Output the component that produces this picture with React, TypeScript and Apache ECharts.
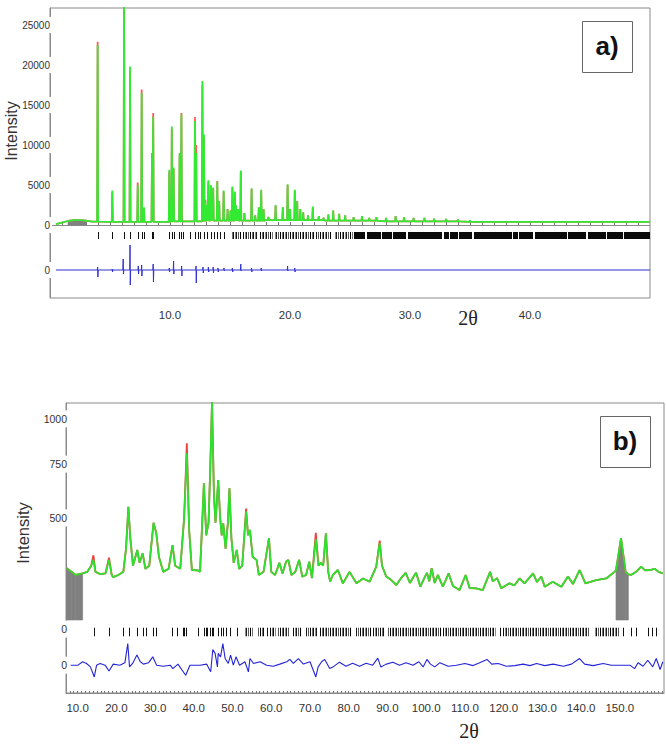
import React, { useEffect, useRef } from "react";
import * as echarts from "echarts";

// ================= Panel a) =================
// background of observed profile [2θ, counts]
const topBackground: number[][] = [
  [0.5, 100], [1.0, 300], [1.5, 500], [2.0, 600], [2.5, 620], [3.0, 550], [3.5, 420],
  [5.0, 400], [10.0, 450], [13.0, 550], [18.0, 600], [23.0, 550], [28.0, 450], [35.0, 400], [50.0, 400],
];
// Bragg peaks [2θ, Iobs, Icalc]
const topPeaks: number[][] = [
  [3.97, 22500, 22900], [5.19, 4300, 4100], [6.17, 28500, 28000], [6.67, 19800, 19300],
  [7.31, 5000, 5300], [7.64, 16500, 16950], [7.83, 2200, 2000], [8.50, 8500, 9000],
  [8.60, 13500, 14000], [9.94, 6900, 6700], [10.15, 12300, 12000], [10.30, 7200, 7000],
  [10.80, 9000, 8800], [10.95, 13800, 14000], [12.08, 13000, 13500], [12.18, 9000, 10000],
  [12.70, 18000, 17500], [12.83, 11300, 11000], [12.95, 3000, 3200], [13.10, 2500, 2500],
  [13.20, 5600, 5400], [13.40, 5000, 4800], [13.50, 3000, 3000], [13.60, 4700, 4600],
  [13.94, 5400, 5500], [14.10, 3000, 3000], [14.47, 4300, 4200], [14.80, 2000, 2000],
  [15.05, 1800, 1800], [15.20, 4800, 4700], [15.40, 4200, 4100], [15.50, 2500, 2500],
  [15.60, 1800, 1800], [15.70, 2000, 2000], [15.90, 6800, 6700], [16.20, 1500, 1500],
  [16.80, 4600, 4500], [17.10, 1200, 1200], [17.40, 2200, 2200], [17.60, 4400, 4300],
  [17.80, 2000, 2000], [18.20, 1000, 1000], [18.80, 2500, 2400], [19.40, 2200, 2200],
  [19.80, 5100, 5000], [20.00, 2000, 2000], [20.40, 4400, 4300], [20.60, 3000, 3000],
  [20.85, 2000, 2000], [21.10, 1600, 1600], [21.50, 1200, 1200], [21.90, 2300, 2200],
  [22.40, 1100, 1100], [22.80, 900, 900], [23.20, 1300, 1300], [23.60, 1800, 1800],
  [24.10, 1400, 1400], [24.60, 1200, 1200], [25.30, 1000, 1000], [26.00, 1100, 1100],
  [26.60, 900, 900], [27.20, 1000, 1000], [28.00, 900, 900], [28.80, 1100, 1100],
  [29.50, 1000, 1000], [30.30, 900, 900], [31.20, 900, 900], [32.00, 800, 800],
  [33.00, 750, 750], [34.00, 700, 700], [35.00, 600, 600],
];
// difference spikes [2θ, up, down] (counts)
const topDiff: number[][] = [
  [3.97, 375, -875], [5.19, 125, -250], [6.10, 1375, -500], [6.67, 3125, -1875],
  [7.36, 500, -500], [7.64, 625, -750], [8.60, 750, -1500], [9.94, 250, -250],
  [10.30, 1125, -500], [10.97, 500, -750], [12.17, 500, -1625], [12.75, 375, -375],
  [13.20, 375, -250], [13.60, 375, -375], [14.00, 250, -250], [14.50, 250, -125],
  [15.20, 250, -250], [15.90, 750, -125], [16.80, 250, -250], [17.60, 250, -125],
  [19.80, 500, -125], [20.40, 250, -250],
];
const topTicks: number[] = [
  3.97, 5.19, 6.17, 6.67, 7.31, 7.64, 7.83, 8.50, 8.60, 9.94, 10.14, 10.31, 10.78, 10.90,
  11.06, 11.67, 12.11, 12.30, 12.50, 12.83, 13.11, 13.39, 13.67, 13.94, 14.17, 14.50,
];
const topTickBandsSparse: number[][] = [
  [15.1, 15.9], [16.05, 17.3], [17.45, 18.6], [18.75, 20.3], [20.45, 22.0], [22.15, 23.5], [23.65, 25.2],
];
const topTickBandsSolid: number[][] = [
  [25.35, 26.3], [26.4, 27.6], [27.7, 28.5], [28.6, 29.7], [29.8, 31.1], [31.2, 32.7],
  [32.8, 33.2], [33.3, 34.0], [34.1, 35.2], [35.3, 37.1], [37.2, 38.5], [38.6, 39.0],
  [39.1, 40.3], [40.4, 43.1], [43.2, 44.7], [44.8, 46.3], [46.4, 47.7], [47.8, 50.0],
];
const topExcluded: number[][] = [[1.5, 3.0]];
const topYLabels: number[] = [0, 5000, 10000, 15000, 20000, 25000];
const topXLabels: number[] = [10, 20, 30, 40];

// ================= Panel b) =================
// observed profile [2θ, counts]
const bottomObs: number[][] = [
  [7.2, 312], [8.5, 300], [9.5, 290], [11.3, 295], [12.5, 300], [13.5, 320], [14.08, 340],
  [14.6, 300], [15.8, 293], [17.2, 295], [18.1, 340], [18.8, 290], [19.2, 283], [20.5, 290],
  [21.8, 300], [22.5, 380], [23.1, 548], [23.6, 420], [24.3, 320], [25.4, 375], [26.0, 330],
  [26.8, 363], [27.5, 310], [28.5, 320], [29.6, 480], [30.3, 440], [31.0, 350], [32.1, 300],
  [33.5, 310], [34.5, 393], [35.2, 320], [36.5, 310], [37.5, 500], [38.2, 807], [38.8, 450],
  [39.5, 306], [41.0, 305], [41.6, 300], [42.0, 420], [42.6, 655], [43.2, 430], [43.8, 480],
  [44.2, 700], [44.7, 1100], [45.2, 600], [45.6, 480], [46.3, 671], [46.8, 500], [47.2, 430],
  [47.6, 478], [48.2, 380], [48.8, 480], [49.2, 632], [49.7, 420], [50.3, 330], [51.1, 375],
  [51.7, 310], [52.5, 320], [53.5, 527], [54.0, 430], [54.5, 451], [55.2, 350], [56.2, 340],
  [56.8, 290], [58.0, 300], [59.4, 419], [60.0, 300], [61.0, 290], [62.1, 330], [62.9, 295],
  [63.8, 334], [64.4, 340], [65.2, 290], [66.2, 300], [67.2, 340], [68.0, 285], [69.0, 290],
  [69.8, 334], [70.5, 280], [71.5, 415], [72.2, 320], [72.8, 330], [73.4, 320], [74.1, 438],
  [74.7, 300], [75.2, 269], [75.9, 290], [77.2, 306], [78.5, 264], [80.2, 300], [82.0, 264],
  [83.7, 279], [85.4, 269], [87.1, 317], [88.0, 400], [88.6, 320], [89.7, 285], [91.0, 274],
  [92.3, 259], [93.5, 280], [94.7, 297], [95.8, 265], [97.0, 290], [97.4, 297], [98.5, 254],
  [99.5, 280], [100.2, 297], [100.8, 270], [101.4, 312], [102.2, 265], [103.0, 290],
  [104.3, 254], [105.8, 295], [106.9, 256], [108.6, 244], [110.2, 290], [111.2, 250],
  [112.9, 249], [114.6, 244], [116.5, 300], [117.2, 270], [118.3, 280], [119.4, 249],
  [121.5, 264], [122.8, 258], [124.1, 279], [125.4, 264], [127.6, 295], [128.6, 268],
  [129.7, 285], [130.6, 254], [132.7, 269], [134.9, 254], [136.6, 285], [137.9, 262],
  [139.6, 306], [141.1, 264], [143.9, 274], [146.5, 279], [148.6, 300], [149.0, 305],
  [150.3, 419], [151.5, 300], [152.2, 292], [152.9, 290], [154.2, 300], [155.5, 317],
  [156.5, 305], [157.7, 306], [159.0, 310], [160.0, 300], [161.1, 295],
];
// calculated intensity where it differs visibly from observed [2θ, counts]
const bottomCalcTips: number[][] = [
  [14.08, 356], [18.1, 348], [38.2, 860], [71.5, 440], [88.0, 410], [53.5, 540],
];
// difference curve [2θ, counts]
const bottomDiff: number[][] = [
  [8.2, 0], [10.1, 0], [11.3, 16], [12.3, 8], [13.3, -8], [14.3, -55], [14.9, 0], [15.8, 8],
  [17.1, 0], [18.1, -27], [19.2, 5], [20.9, 0], [22.2, 11], [22.95, 101], [23.4, -8], [24.2, 8],
  [25.3, 47], [26.2, 16], [27.0, 5], [28.3, 11], [29.4, 39], [30.4, 0], [32.1, -5], [33.9, 0],
  [34.6, -16], [35.9, 5], [37.9, -47], [39.0, 0], [41.6, 0], [43.3, 5], [44.36, -31],
  [44.9, 73], [45.5, 55], [46.1, -8], [46.3, 55], [46.9, 39], [47.5, 101], [48.1, 31],
  [48.9, 8], [49.5, 47], [50.2, 0], [50.9, 39], [51.8, 0], [53.2, 16], [54.1, -31], [54.5, 31],
  [55.4, 8], [57.1, 16], [58.8, 0], [60.5, -5], [62.2, 5], [64.0, 16], [64.8, 27], [65.7, 8],
  [67.0, 31], [68.3, 5], [70.0, 16], [71.5, -55], [72.1, -8], [73.0, 16], [73.8, 27],
  [75.1, -16], [75.9, -9], [77.6, 14], [79.3, -5], [81.0, 9], [82.8, -5], [84.5, 9], [86.2, 0],
  [87.5, 33], [88.3, -9], [89.7, 5], [91.4, 14], [93.1, 0], [94.8, 11], [96.6, 0], [98.1, 16],
  [99.2, -8], [100.2, 27], [101.1, 5], [102.2, -8], [103.5, 11], [105.7, -5], [107.8, 0],
  [110.0, 8], [112.1, -2], [113.8, 11], [115.7, 27], [116.9, 5], [118.6, 8], [120.7, -5],
  [122.9, -2], [125.0, 5], [126.8, -2], [128.5, 8], [130.6, -2], [132.8, 5], [135.4, -5],
  [137.5, 5], [139.6, 31], [140.9, 5], [143.1, -2], [145.7, 8], [147.8, 0], [152.6, 0],
  [153.8, -16], [154.7, 11], [156.0, -5], [157.2, 23], [158.5, -8], [159.4, 31], [160.4, -20],
  [161.1, 16],
];
const bottomTicks: number[] = [
  14.34, 18.13, 21.83, 23.38, 25.43, 26.82, 27.59, 29.57, 30.26, 34.47, 35.59, 37.14, 37.57,
  38.0, 41.01, 42.65, 43.07, 43.5, 44.19, 44.8, 45.05, 46.34, 46.94, 47.63, 48.23, 49.35,
  51.07, 58.82, 118.95, 150.8, 152.8, 154.1, 157.2, 158.3, 159.4,
];
const bottomTickBands: number[][] = [
  [53.05, 55.4], [56.2, 58.0], [59.5, 61.4], [61.8, 64.8], [65.5, 67.9], [69.0, 72.2],
  [72.6, 80.6], [81.9, 85.8], [86.3, 89.3], [90.1, 103.9], [104.3, 118.1], [119.8, 142.2],
  [143.5, 149.9],
];
const bottomExcluded: number[][] = [[7.0, 11.3], [149.0, 152.2]];
const bottomYLabels: number[] = [500, 750, 1000];
const bottomXLabels: number[] = [10, 20, 30, 40, 50, 60, 70, 80, 90, 100, 110, 120, 130, 140, 150];

// ================= layout constants (display units) =================
const T_YMIN = -9125, T_YMAX = 27125, T_DIFF0 = -5625, T_TICK_HI = -875, T_TICK_LO = -1750;
const B_YMIN = 6.0, B_YMAX = 33.1, B_DIFF0 = 8.6, B_DIFF_SCALE = 0.02, B_TICK_HI = 12.1, B_TICK_LO = 11.3, B_OBS0 = 11.97, B_EXCL_BASE = 12.82;
const FONT = '"Liberation Sans", Arial, sans-serif';

function bgAt(x: number): number {
  let v = topBackground[0][1];
  for (const p of topBackground) if (p[0] <= x) v = p[1];
  return v;
}
function topProfile(col: number): number[][] {
  const pts: number[][] = topBackground.map((p) => [p[0], p[1]]);
  for (const pk of topPeaks) {
    const b = bgAt(pk[0]);
    pts.push([pk[0] - 0.04, b], [pk[0], pk[col]], [pk[0] + 0.04, b]);
  }
  return pts.sort((a, b) => a[0] - b[0]);
}
function topDiffLine(): number[][] {
  const pts: number[][] = [[0.5, T_DIFF0]];
  for (const d of topDiff) {
    pts.push([d[0] - 0.03, T_DIFF0], [d[0], T_DIFF0 + d[1]], [d[0] + 0.02, T_DIFF0 + d[2]], [d[0] + 0.05, T_DIFF0]);
  }
  pts.push([50, T_DIFF0]);
  return pts;
}
const sq = (v: number) => Math.sqrt(v);

function excludedSegments(pts: number[][], ranges: number[][]): number[][] {
  const out: number[][] = [];
  for (const r of ranges) {
    const inR = pts.filter((p) => p[0] >= r[0] - 1e-9 && p[0] <= r[1] + 1e-9);
    for (let i = 0; i + 1 < inR.length; i++) out.push([inR[i][0], inR[i][1], inR[i + 1][0], inR[i + 1][1]]);
  }
  return out;
}

function barcodePattern(): any {
  const c = document.createElement("canvas");
  c.width = 10; c.height = 10;
  const ctx = c.getContext("2d")!;
  const cols = [[0, 1], [2, 0.55], [3, 0.95], [5, 0.45], [6, 0.9], [8, 0.65]];
  for (const [x, a] of cols) { ctx.fillStyle = `rgba(0,0,0,${a})`; ctx.fillRect(x, 0, 1, 10); }
  return { image: c.toDataURL(), repeat: "repeat", imageWidth: 10, imageHeight: 10 };
}

function tickSeries(xi: number, ticks: number[], hi: number, lo: number): any {
  return {
    type: "custom", xAxisIndex: xi, yAxisIndex: xi, silent: true, z: 4,
    data: ticks.map((t) => [t, hi]),
    encode: { x: 0, y: 1 },
    renderItem: (_p: any, api: any) => {
      const x = api.value(0);
      const a = api.coord([x, hi]);
      const b = api.coord([x, lo]);
      const px = Math.round(a[0]) + 0.5;
      return { type: "line", shape: { x1: px, y1: a[1], x2: px, y2: b[1] }, style: { stroke: "#111", lineWidth: 1 } };
    },
  };
}
function bandSeries(xi: number, bands: number[][], hi: number, lo: number, fill: any): any {
  return {
    type: "custom", xAxisIndex: xi, yAxisIndex: xi, silent: true, z: 4,
    data: bands.map((b) => [b[0], b[1], hi]),
    encode: { x: [0, 1], y: 2 },
    renderItem: (_p: any, api: any) => {
      const a = api.coord([api.value(0), hi]);
      const b = api.coord([api.value(1), lo]);
      return { type: "rect", shape: { x: Math.round(a[0]), y: a[1], width: Math.max(1, Math.round(b[0] - a[0])), height: b[1] - a[1] }, style: { fill } };
    },
  };
}
function exclSeries(xi: number, segs: number[][], base: number): any {
  return {
    type: "custom", xAxisIndex: xi, yAxisIndex: xi, silent: true, z: 1,
    data: segs,
    encode: { x: [0, 2], y: [1, 3] },
    renderItem: (_p: any, api: any) => {
      const p1 = api.coord([api.value(0), api.value(1)]);
      const p2 = api.coord([api.value(2), api.value(3)]);
      const p3 = api.coord([api.value(2), base]);
      const p4 = api.coord([api.value(0), base]);
      return { type: "polygon", shape: { points: [p1, p2, p3, p4] }, style: { fill: "#808080", stroke: "#808080", lineWidth: 0.6 } };
    },
  };
}

export default function App() {
  const ref = useRef<HTMLDivElement>(null);
  useEffect(() => {
    if (!ref.current) return;
    const chart = echarts.init(ref.current, null, { renderer: "svg" });
    const pattern = barcodePattern();

    const topObs = topProfile(1);
    const topCalc = topProfile(2);
    const bObsDisp = bottomObs.map((p) => [p[0], sq(p[1])]);
    const bCalcDisp = bottomObs.map((p) => {
      const tip = bottomCalcTips.find((t) => t[0] === p[0]);
      return [p[0], sq(tip ? tip[1] : p[1])];
    });
    const bDiffDisp = bottomDiff.map((p) => [p[0], B_DIFF0 + p[1] * B_DIFF_SCALE]);

    const axisColor = "#8a8a8a";
    const labelBase = { color: "#333", fontFamily: FONT };
    const topXTicks: number[] = [];
    for (let i = 1; i < 50; i++) topXTicks.push(i);
    const botXTicks: number[] = [];
    for (let i = 8; i <= 161; i++) botXTicks.push(i);

    const option: any = {
      animation: false,
      grid: [
        { left: 50, top: 8, width: 600, height: 290, show: true, borderColor: axisColor, borderWidth: 1, backgroundColor: "transparent" },
        { left: 66, top: 403, width: 598, height: 290, show: true, borderColor: axisColor, borderWidth: 1, backgroundColor: "transparent" },
      ],
      xAxis: [
        {
          type: "value", gridIndex: 0, min: 0, max: 50,
          axisLine: { show: true, lineStyle: { color: axisColor } },
          axisTick: { show: true, inside: true, length: 3, customValues: topXTicks, lineStyle: { color: "#777" } },
          axisLabel: { ...labelBase, fontSize: 11.5, margin: 11, customValues: topXLabels, formatter: (v: number) => v.toFixed(1) },
          splitLine: { show: false },
        },
        {
          type: "value", gridIndex: 1, min: 7, max: 161.4,
          axisLine: { show: true, lineStyle: { color: axisColor } },
          axisTick: { show: true, inside: true, length: 2, customValues: botXTicks, lineStyle: { color: "#777" } },
          axisLabel: { ...labelBase, fontSize: 11.5, margin: 9, customValues: bottomXLabels, formatter: (v: number) => v.toFixed(1) },
          splitLine: { show: false },
        },
      ],
      yAxis: [
        {
          type: "value", gridIndex: 0, min: T_YMIN, max: T_YMAX,
          axisLine: { show: true, lineStyle: { color: axisColor } },
          axisTick: { show: false },
          axisLabel: {
            ...labelBase, fontSize: 10, margin: -2, backgroundColor: "#fff", padding: [3, 2, 3, 1],
            customValues: [T_DIFF0, ...topYLabels],
            formatter: (v: number) => (v < 0 ? "0" : String(Math.round(v))),
          },
          splitLine: { show: false },
        },
        {
          type: "value", gridIndex: 1, min: B_YMIN, max: B_YMAX,
          axisLine: { show: true, lineStyle: { color: axisColor } },
          axisTick: { show: false },
          axisLabel: {
            ...labelBase, fontSize: 10.5, margin: -3, backgroundColor: "#fff", padding: [3, 2, 3, 1],
            customValues: [B_DIFF0, B_OBS0, ...bottomYLabels.map(sq)],
            formatter: (v: number) => (v < 15 ? "0" : String(Math.round(v * v))),
          },
          splitLine: { show: false },
        },
      ],
      series: [
        exclSeries(0, excludedSegments(topObs, topExcluded), 0),
        { type: "line", xAxisIndex: 0, yAxisIndex: 0, data: topCalc, symbol: "none", silent: true, z: 2, lineStyle: { color: "#ff5a5a", width: 1.8 } },
        { type: "line", xAxisIndex: 0, yAxisIndex: 0, data: topObs, symbol: "none", silent: true, z: 3, lineStyle: { color: "#33ea33", width: 1.8 } },
        { type: "line", xAxisIndex: 0, yAxisIndex: 0, data: topDiffLine(), symbol: "none", silent: true, z: 3, lineStyle: { color: "#3030d0", width: 1 } },
        tickSeries(0, topTicks, T_TICK_HI, T_TICK_LO),
        bandSeries(0, topTickBandsSparse, T_TICK_HI, T_TICK_LO, pattern),
        bandSeries(0, topTickBandsSolid, T_TICK_HI, T_TICK_LO, "#0a0a0a"),

        exclSeries(1, excludedSegments(bObsDisp, bottomExcluded), B_EXCL_BASE),
        { type: "line", xAxisIndex: 1, yAxisIndex: 1, data: bCalcDisp, symbol: "none", silent: true, z: 2, lineStyle: { color: "#f04040", width: 1.8 } },
        { type: "line", xAxisIndex: 1, yAxisIndex: 1, data: bObsDisp, symbol: "none", silent: true, z: 3, lineStyle: { color: "#2fe02f", width: 1.8 } },
        { type: "line", xAxisIndex: 1, yAxisIndex: 1, data: bDiffDisp, symbol: "none", silent: true, z: 3, lineStyle: { color: "#2424d8", width: 1.1 } },
        tickSeries(1, bottomTicks, B_TICK_HI, B_TICK_LO),
        bandSeries(1, bottomTickBands, B_TICK_HI, B_TICK_LO, pattern),
      ],
      graphic: [
        { type: "text", x: 11, y: 131, rotation: Math.PI / 2, style: { text: "Intensity", font: `16px ${FONT}`, fill: "#333", align: "center", verticalAlign: "middle" } },
        { type: "text", x: 23, y: 533, rotation: Math.PI / 2, style: { text: "Intensity", font: `16.5px ${FONT}`, fill: "#333", align: "center", verticalAlign: "middle" } },
        { type: "text", x: 468, y: 318, style: { text: "2θ", font: '20px "Liberation Serif", "DejaVu Serif", serif', fill: "#222", align: "center", verticalAlign: "middle" } },
        { type: "text", x: 469, y: 731, style: { text: "2θ", font: '20px "Liberation Serif", "DejaVu Serif", serif', fill: "#222", align: "center", verticalAlign: "middle" } },
        { type: "rect", shape: { x: 582.5, y: 21.5, width: 50, height: 51 }, style: { fill: "#fff", stroke: "#666", lineWidth: 1 } },
        { type: "text", x: 607, y: 46, style: { text: "a)", font: `bold 26px ${FONT}`, fill: "#111", align: "center", verticalAlign: "middle" } },
        { type: "rect", shape: { x: 600.5, y: 416.5, width: 50, height: 51 }, style: { fill: "#fff", stroke: "#666", lineWidth: 1 } },
        { type: "text", x: 625, y: 441, style: { text: "b)", font: `bold 26px ${FONT}`, fill: "#111", align: "center", verticalAlign: "middle" } },
      ],
    };
    chart.setOption(option);
    return () => chart.dispose();
  }, []);
  return <div ref={ref} style={{ position: "absolute", left: 0, top: 0, width: 666, height: 747, background: "#fff" }} />;
}
